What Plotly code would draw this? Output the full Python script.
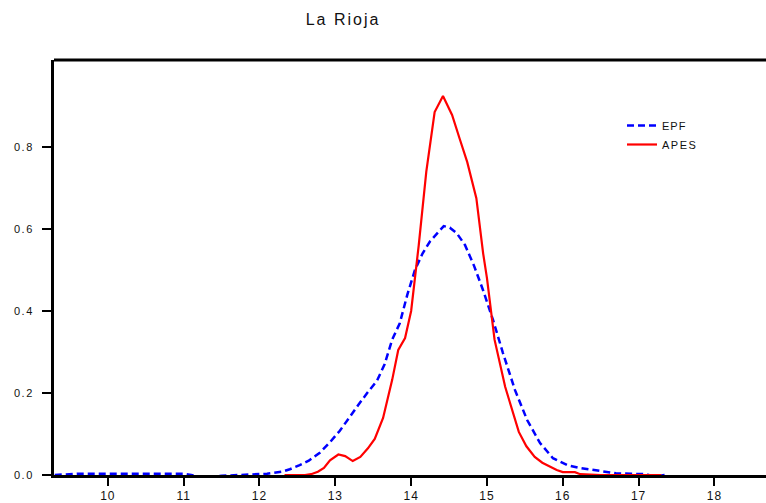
import plotly.graph_objects as go

# EPF density (blue dashed)
epf_x = [9.3, 9.6, 9.8, 10.0, 10.2, 10.4, 10.6, 10.8, 11.0, 11.1, 11.2, 11.3, 11.4, 11.5,
         11.7, 11.9, 12.1, 12.3, 12.4, 12.53, 12.65, 12.8, 12.93, 13.06, 13.19, 13.3, 13.42,
         13.55, 13.65, 13.75, 13.85, 13.95, 14.05, 14.15, 14.25, 14.35, 14.43, 14.51, 14.6,
         14.71, 14.83, 14.95, 15.08, 15.21, 15.37, 15.53, 15.7, 15.87, 16.06, 16.2, 16.4,
         16.55, 16.7, 16.9, 17.1, 17.2, 17.35]
epf_y = [0.0, 0.003, 0.003, 0.003, 0.003, 0.003, 0.003, 0.003, 0.003, 0.0, -0.004, -0.003,
         -0.004, -0.002, 0.0, 0.002, 0.003, 0.008, 0.014, 0.024, 0.035, 0.055, 0.08, 0.108,
         0.14, 0.17, 0.2, 0.23, 0.27, 0.33, 0.37, 0.44, 0.5, 0.54, 0.57, 0.59, 0.607, 0.603,
         0.59, 0.561, 0.51, 0.45, 0.378, 0.298, 0.207, 0.134, 0.078, 0.041, 0.024, 0.018,
         0.012, 0.007, 0.004, 0.003, 0.002, -0.004, 0.0]

# APES density (red solid)
apes_x = [12.33, 12.6, 12.68, 12.77, 12.85, 12.93, 13.04, 13.13, 13.23, 13.33, 13.43, 13.52,
          13.63, 13.75, 13.83, 13.92, 14.0, 14.1, 14.2, 14.31, 14.42, 14.54, 14.64, 14.74,
          14.86, 14.95, 15.0, 15.1, 15.24, 15.42, 15.52, 15.63, 15.73, 15.83, 15.92, 16.0,
          16.16, 16.23, 16.5, 17.3]
apes_y = [0.0, 0.0, 0.002, 0.008, 0.017, 0.036, 0.05, 0.046, 0.034, 0.044, 0.065, 0.088,
          0.139, 0.232, 0.305, 0.334, 0.40, 0.56, 0.74, 0.885, 0.924, 0.878, 0.82, 0.763,
          0.675, 0.54, 0.48, 0.33, 0.215, 0.105, 0.07, 0.044, 0.03, 0.02, 0.012, 0.007,
          0.007, 0.002, 0.0, 0.0]

x_ticks = [10, 11, 12, 13, 14, 15, 16, 17, 18]
y_ticks = [0.0, 0.2, 0.4, 0.6, 0.8]


def spaced(s, px):
    return '<span style="letter-spacing:%spx">%s</span>' % (px, s)


W, H = 766, 503
L, T, B, R = 54, 60, 28, 0
PW, PH = W - L - R, H - T - B

FAM = "Liberation Sans, Arial, sans-serif"

fig = go.Figure()
fig.add_trace(go.Scatter(x=epf_x, y=epf_y, mode="lines", name=spaced("EPF", 1),
                         line=dict(color="#0000ff", width=2.5, dash="7px,4px")))
fig.add_trace(go.Scatter(x=apes_x, y=apes_y, mode="lines", name=spaced("APES", 1.5),
                         line=dict(color="#ff0000", width=2.2)))

fig.update_layout(
    width=W, height=H,
    margin=dict(l=L, r=R, t=T, b=B, autoexpand=False),
    paper_bgcolor="white", plot_bgcolor="white",
    font=dict(family=FAM, size=11, color="#111111"),
    title=dict(text=spaced("La Rioja", 2), x=343 / W, xref="container", xanchor="center",
               y=1 - 19 / H, yref="container", yanchor="middle",
               font=dict(family=FAM, size=16, color="#111111")),
    showlegend=True,
    legend=dict(x=(622 - L) / PW, y=1 - (111 - T) / PH,
                xanchor="left", yanchor="top", bgcolor="rgba(0,0,0,0)",
                font=dict(family=FAM, size=11, color="#111111")),
    xaxis=dict(range=[9.29, 18.68], tickvals=x_ticks,
               ticktext=[spaced(str(v), 1) for v in x_ticks],
               tickfont=dict(family=FAM, size=12, color="#111111"),
               showgrid=False, zeroline=False, showline=True, linecolor="black", linewidth=3,
               ticks="outside", ticklen=8, tickwidth=1.5, tickcolor="black", automargin=False),
    yaxis=dict(range=[0, 1.012], tickvals=y_ticks,
               ticktext=[spaced("%.1f" % v, 1.5) for v in y_ticks],
               tickfont=dict(family=FAM, size=11, color="#111111"),
               showgrid=False, zeroline=False, showline=True, linecolor="black", linewidth=3,
               ticks="outside", ticklen=9, tickwidth=1.5, tickcolor="black",
               ticklabelstandoff=6, automargin=False),
    shapes=[dict(type="line", xref="paper", yref="paper", x0=0, x1=1, y0=1, y1=1,
                 line=dict(color="black", width=3))],
)

fig.write_html(
    "out.html",
    config={"displayModeBar": False},
    post_script=("document.body.style.margin='0';"
                 "document.body.style.overflow='hidden';"
                 "document.documentElement.style.overflow='hidden';"),
)
